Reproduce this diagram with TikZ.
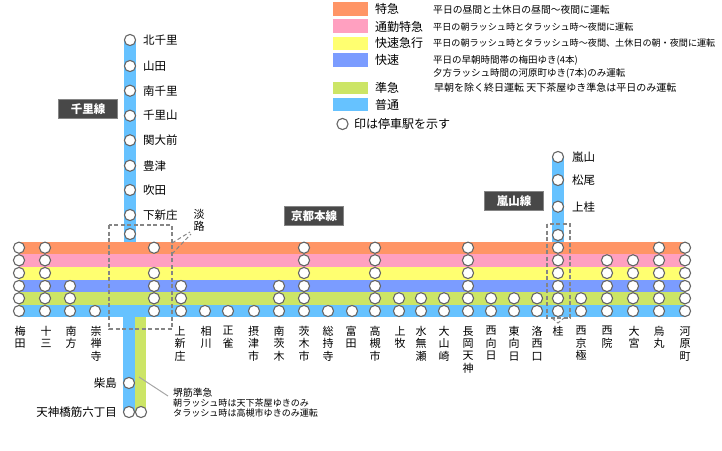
\documentclass[tikz,border=0pt]{standalone}
\usepackage{fontspec}
\setmainfont{Noto Sans CJK JP}
\usetikzlibrary{calc}
\definecolor{cOrange}{HTML}{FF9566}
\definecolor{cPink}{HTML}{FFA0C0}
\definecolor{cYellow}{HTML}{FFFF70}
\definecolor{cBlue}{HTML}{7B9CFF}
\definecolor{cGreen}{HTML}{CCE566}
\definecolor{cCyan}{HTML}{66C2FF}
\definecolor{cRing}{HTML}{666666}
\definecolor{cTag}{HTML}{484848}
\definecolor{cDash}{HTML}{858585}
\newcommand{\fsz}[1]{\fontsize{#1}{#1}\selectfont}
\tikzset{
  stn/.style={circle,draw=cRing,fill=white,line width=1.1pt,minimum size=11.2,inner sep=0},
  band/.style={draw=none},
  vlab/.style={anchor=north,align=center,inner sep=0,font=\fontsize{11}{12.4}\selectfont},
  hlab/.style={anchor=west,inner sep=0,font=\fsz{11.5}},
  rlab/.style={anchor=east,inner sep=0,font=\fsz{11.5}},
  tag/.style={draw=cDash,fill=cTag,text=white,line width=0.6pt,minimum width=59,minimum height=19.5,inner sep=0,font=\bfseries\fsz{11.5}},
  legname/.style={anchor=west,inner sep=0,font=\fsz{12}},
  legtxt/.style={anchor=west,inner sep=0,font=\fsz{9.1}},
  dashbox/.style={draw=cDash,line width=1.3pt,dash pattern=on 4pt off 2.5pt},
  note/.style={anchor=west,inner sep=0,font=\fsz{9.05}}
}
\begin{document}
\begin{tikzpicture}[x=1pt,y=-1pt]
\useasboundingbox (0,0) rectangle (722,450);
% vertical lines
\fill[cCyan] (124,40) rectangle (136,243);
\fill[cCyan] (552,157) rectangle (564,243);
\fill[cCyan] (123,317) rectangle (135,412);
\fill[cGreen] (135,317) rectangle (146,412);
% main bands
\fill[cOrange] (19,242) rectangle (685,254);
\fill[cPink] (19,254) rectangle (685,267);
\fill[cYellow] (19,267) rectangle (685,280);
\fill[cBlue] (19,280) rectangle (685,292);
\fill[cGreen] (19,292) rectangle (685,305);
\fill[cCyan] (19,305) rectangle (685,317);
% main stations
\foreach \x/\rows in {19/{1,2,3,4,5,6},45/{1,2,3,4,5,6},70/{4,5,6},95/{6},154/{1,3,4,5,6},181/{4,5,6},205/{6},228/{6},254/{6},279/{4,5,6},304/{1,2,3,4,5,6},328/{6},352/{6},375/{1,2,3,4,5,6},399/{5,6},421/{5,6},444/{5,6},468/{1,2,3,4,5,6},491/{5,6},514/{5,6},537/{5,6},558/{1,2,3,4,5,6},581/{5,6},607/{2,3,4,5,6},633/{2,3,4,5,6},659/{1,2,3,4,5,6},685/{1,2,3,4,5,6}}{
  \foreach \r in \rows {
    \pgfmathsetmacro\yy{{247.7,260.3,273,286,298.3,311}[\r-1]}
    \node[stn] (s\x-\r) at (\x,\yy) {};
  }
}
% Senri line
\foreach \y/\t [count=\i] in {40/北千里,66/山田,90.7/南千里,115.7/千里山,140.3/関大前,165.7/豊津,190/吹田,215/下新庄}{
  \node[stn] (senri\i) at (130,\y) {};
  \node[hlab] (senril\i) at (143,\y) {\t};
}
\node[stn] (senri9) at (130,234) {};
% Arashiyama line
\foreach \y/\t [count=\i] in {157/嵐山,180/松尾,206.7/上桂}{
  \node[stn] (ara\i) at (558,\y) {};
  \node[hlab] (aral\i) at (572,\y) {\t};
}
\node[stn] (ara4) at (558,235) {};
% Sakaisuji
\node[stn] (sk1) at (129,383) {};
\node[stn] (sk2) at (129,412) {};
\node[stn] (sk3) at (141,412) {};
\node[rlab] (skl1) at (117,383) {柴島};
\node[rlab] (skl2) at (117,412) {天神橋筋六丁目};
% station labels
\foreach \x/\t [count=\i] in {20/{梅\\田},46/{十\\三},71/{南\\方},96/{崇\\禅\\寺},180/{上\\新\\庄},206/{相\\川},228/{正\\雀},253.5/{摂\\津\\市},279/{南\\茨\\木},304/{茨\\木\\市},328/{総\\持\\寺},351/{富\\田},375/{高\\槻\\市},400/{上\\牧},421/{水\\無\\瀬},444/{大\\山\\崎},468/{長\\岡\\天\\神},491/{西\\向\\日},514/{東\\向\\日},537/{洛\\西\\口},558/{桂},581/{西\\京\\極},607/{西\\院},634/{大\\宮},659/{烏\\丸},685/{河\\原\\町}}{
  \node[vlab] (lab\i) at (\x,326) {\t};
}
% tags
\node[tag] (tagA) at (88,109) {千里線};
\node[tag] (tagB) at (314,216) {京都本線};
\node[tag] (tagC) at (514,201) {嵐山線};
% dashed boxes
\draw[dashbox] (109,225) rectangle (172,329);
\draw[dashbox] (547,224) rectangle (570,318);
\coordinate (vA) at (552,318);
\coordinate (vB) at (558,323);
\coordinate (vC) at (564,318);
\draw[dashbox,line width=1pt] (vA) -- (vB) -- (vC);
% Awaji
\node[vlab] (awaji) at (199,209) {淡\\路};
\coordinate (awA) at (172,243);
\coordinate (awB) at (190,232);
\coordinate (awC) at (172,254);
\coordinate (awD) at (191,234);
\draw[dashbox,line width=1pt] (awA) -- (awB);
\draw[dashbox,line width=1pt] (awC) -- (awD);
% Note
\node[note,font=\fsz{9.8}] (nt1) at (173,393) {堺筋準急};
\node[note] (nt2) at (173,403) {朝ラッシュ時は天下茶屋ゆきのみ};
\node[note] (nt3) at (173,413) {タラッシュ時は高槻市ゆきのみ運転};
\coordinate (ldA) at (139,377);
\coordinate (ldB) at (168,396);
\draw[color=black!35,line width=1pt] (ldA) -- (ldB);
% Legend
\foreach \a/\b/\c/\n/\ny in {2/16/cOrange/特急/9,19/33/cPink/通勤特急/26.5,37/50/cYellow/快速急行/43,53/67/cBlue/快速/60,82/94/cGreen/準急/88,98/111/cCyan/普通/105}{
  \fill[\c] (333,\a) rectangle (368,\b);
  \node[legname] (leg\c) at (375,\ny) {\n};
}
\node[legtxt,font=\fsz{9.8}] (d1) at (433,9.5) {平日の昼間と土休日の昼間〜夜間に運転};
\node[legtxt] (d2) at (433,27) {平日の朝ラッシュ時とタラッシュ時〜夜間に運転};
\node[legtxt] (d3) at (433,43.5) {平日の朝ラッシュ時とタラッシュ時〜夜間、土休日の朝・夜間に運転};
\node[legtxt,font=\fsz{9.5}] (d4) at (433,60) {平日の早朝時間帯の梅田ゆき(4本)};
\node[legtxt,font=\fsz{9.5}] (d5) at (433,73.5) {夕方ラッシュ時間の河原町ゆき(7本)のみ運転};
\node[legtxt,font=\fsz{10}] (d6) at (434,88) {早朝を除く終日運転 天下茶屋ゆき準急は平日のみ運転};
\node[stn,draw=cRing] (legc) at (342.5,124) {};
\node[legname] (legs) at (354,124) {印は停車駅を示す};
\end{tikzpicture}
\end{document}
